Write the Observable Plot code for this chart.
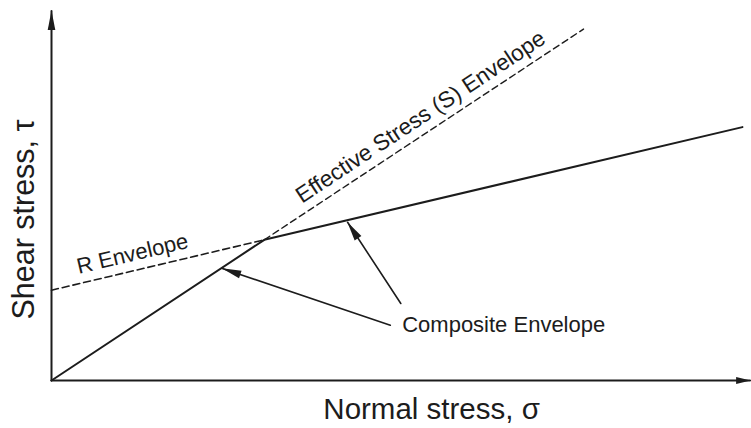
<!DOCTYPE html>
<html>
<head>
<meta charset="utf-8">
<script src="https://cdn.jsdelivr.net/npm/d3@7"></script>
<script src="https://cdn.jsdelivr.net/npm/@observablehq/plot@0.6"></script>
<style>
  html, body { margin: 0; padding: 0; background: #fff; }
</style>
</head>
<body>
<div id="chart"></div>
<script>
// Effective stress (S) envelope (dashed), beyond the break point
const sEnvSigma = [30.4, 76.0];
const sEnvTau = [20.1, 50.2];
// R envelope (dashed), from the τ axis to the break point
const rEnvSigma = [0, 30.4];
const rEnvTau = [12.9, 20.1];
// Composite envelope (solid)
const compSigma = [0, 30.4, 98.7];
const compTau = [0, 20.1, 36.2];
// Axes (with arrow heads)
const axisXSigma = [0, 99.8];
const axisXTau = [0, 0];
const axisYSigma = [0, 0];
const axisYTau = [0, 52.8];
// Pointer arrows: tail → tip
const arrowTailSigma = [49.9, 48.4];
const arrowTailTau = [11.0, 7.9];
const arrowTipSigma = [42.3, 24.4];
const arrowTipTau = [22.6, 16.0];
// Annotation labels
const labelText = ["R Envelope", "Effective Stress (S) Envelope", "Composite Envelope"];
const labelSigma = [11.8, 53.3, 50.1];
const labelTau = [17.1, 36.8, 6.9];
const labelAngle = [-13.3, -33.4, 0];
const labelAnchor = ["middle", "middle", "start"];
const labelSize = [22, 22.6, 22];
const xAxisLabel = "Normal stress, σ";
const yAxisLabel = "Shear stress, τ";

const ink = "#1c1c1c";

function filledHead(len, half) {
  return (color) => {
    const m = d3.create("svg:marker")
      .attr("viewBox", `${-len - 1} ${-half - 1} ${len + 2} ${2 * half + 2}`)
      .attr("markerWidth", len + 2)
      .attr("markerHeight", 2 * half + 2)
      .attr("markerUnits", "userSpaceOnUse")
      .attr("refX", 0)
      .attr("refY", 0)
      .attr("orient", "auto")
      .attr("fill", ink)
      .attr("stroke", "none");
    m.append("path").attr("d", `M0.5,0L${-len},${-half}L${-len},${half}Z`);
    return m.node();
  };
}

const toPts = (xs, ys) => xs.map((x, i) => ({x, y: ys[i]}));
const sPts = toPts(sEnvSigma, sEnvTau);
const rPts = toPts(rEnvSigma, rEnvTau);
const cPts = toPts(compSigma, compTau);
const axX = toPts(axisXSigma, axisXTau);
const axY = toPts(axisYSigma, axisYTau);
const arrows = arrowTailSigma.map((x, i) => [
  {x, y: arrowTailTau[i], k: i},
  {x: arrowTipSigma[i], y: arrowTipTau[i], k: i}
]).flat();
const labels = labelText.map((t, i) => ({t, x: labelSigma[i], y: labelTau[i], r: labelAngle[i], a: labelAnchor[i], s: labelSize[i]}));

const chart = Plot.plot({
  width: 751,
  height: 428,
  marginLeft: 51,
  marginRight: 0,
  marginTop: 9,
  marginBottom: 48,
  x: {domain: [0, 100], axis: null},
  y: {domain: [0, 53], axis: null},
  style: {fontFamily: "'Liberation Sans', Arial, Helvetica, sans-serif", background: "#fff", color: ink},
  marks: [
    Plot.line(sPts, {x: "x", y: "y", stroke: ink, strokeWidth: 1.4, strokeDasharray: "6.5,4"}),
    Plot.line(rPts, {x: "x", y: "y", stroke: ink, strokeWidth: 1.6, strokeDasharray: "7,4"}),
    Plot.line(cPts, {x: "x", y: "y", stroke: ink, strokeWidth: 2}),
    Plot.line(axX, {x: "x", y: "y", stroke: ink, strokeWidth: 2, markerEnd: filledHead(14, 3.5)}),
    Plot.line(axY, {x: "x", y: "y", stroke: ink, strokeWidth: 2, markerEnd: filledHead(19, 3.8)}),
    Plot.line(arrows, {x: "x", y: "y", z: "k", stroke: ink, strokeWidth: 1.6, markerEnd: filledHead(19, 4)}),
    ...labels.map(l => Plot.text([l], {
      x: "x", y: "y", text: "t", rotate: l.r, textAnchor: l.a, lineAnchor: "bottom",
      fontSize: l.s, fill: ink
    })),
    Plot.text([xAxisLabel], {frameAnchor: "bottom", x: [54.3], dy: 38, textAnchor: "middle", lineAnchor: "bottom", fontSize: 29.5, fill: ink}),
    Plot.text([yAxisLabel], {frameAnchor: "left", y: [23], dx: -18, rotate: -90, textAnchor: "middle", lineAnchor: "bottom", fontSize: 30.5, fill: ink})
  ]
});
document.getElementById("chart").append(chart);
</script>
</body>
</html>
